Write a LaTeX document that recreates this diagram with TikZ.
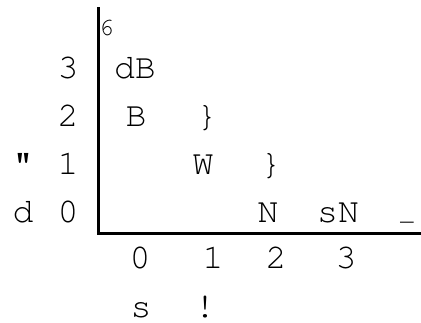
\documentclass[tikz,border=0pt]{standalone}
\usepackage[T1]{fontenc}
\usepackage{courier}
\renewcommand{\familydefault}{\ttdefault}
\begin{document}
\begin{tikzpicture}[x=1bp,y=-1bp,
  lbl/.style={anchor=base,inner sep=0pt,font=\fontsize{35}{35}\selectfont},
  sml/.style={anchor=base west,inner sep=0pt,font=\fontsize{25}{25}\selectfont},
  axis/.style={line width=2.8bp}]
\useasboundingbox (0,0) rectangle (421,323);
\coordinate (top) at (98.5,7);
\coordinate (orig) at (98.5,233.5);
\coordinate (right) at (421,233.5);
\draw[axis] (top) -- (orig) -- (right);
\node[sml] (six) at (99,35) {6};
% y labels
\node[lbl] (y3) at (68,78) {3};
\node[lbl] (y2) at (68,126) {2};
\node[lbl] (y1) at (68,174) {1};
\node[lbl] (y0) at (68,222) {0};
\node[lbl] (q) at (23,174) {\textquotedbl};
\node[lbl] (d) at (23,222) {d};
% cells
\node[lbl] (dB) at (135,78) {dB};
\node[lbl] (B) at (136,126) {B};
\node[lbl] (br2) at (207,126) {\}};
\node[lbl] (W) at (203,174) {W};
\node[lbl] (br1) at (271,174) {\}};
\node[lbl] (N) at (268,222) {N};
\node[lbl,font=\fontsize{22}{22}\selectfont] (us) at (407,220) {\_};
\node[lbl] (sN) at (338,222) {sN};
% x labels
\node[lbl] (x0) at (140,268) {0};
\node[lbl] (x1) at (213,268) {1};
\node[lbl] (x2) at (276,268) {2};
\node[lbl] (x3) at (346,268) {3};
\node[lbl] (s) at (141,317) {s};
\node[lbl] (ex) at (205,317) {!};
\end{tikzpicture}
\end{document}
